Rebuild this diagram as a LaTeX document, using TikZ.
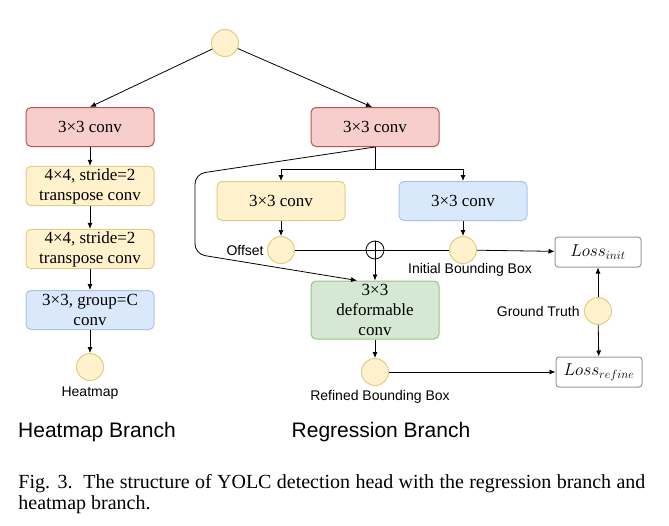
\documentclass[tikz,border=0pt]{standalone}
\usepackage{fontspec}
\setmainfont{Liberation Serif}
\newfontfamily\labelfont{Liberation Sans}
\usetikzlibrary{arrows.meta}
\usetikzlibrary{positioning}

\definecolor{redfill}{HTML}{F8CECC}
\definecolor{reddraw}{HTML}{B85450}
\definecolor{yellowfill}{HTML}{FFF2CC}
\definecolor{yellowdraw}{HTML}{D6B656}
\definecolor{bluefill}{HTML}{DAE8FC}
\definecolor{bluedraw}{HTML}{A9C4EB}
\definecolor{greenfill}{HTML}{D5E8D4}
\definecolor{greendraw}{HTML}{82B366}
\definecolor{lossdraw}{HTML}{999999}

\begin{document}
\begin{tikzpicture}[x=1pt,y=-1pt,line width=0.8pt,
  layer/.style={rounded corners=5pt,line width=1pt,minimum width=128pt,minimum height=39pt,
    align=center,inner sep=2pt,font=\fontsize{17}{20}\selectfont},
  redbox/.style={layer,fill=redfill,draw=reddraw},
  yellowbox/.style={layer,fill=yellowfill,draw=yellowdraw!70},
  bluebox/.style={layer,fill=bluefill,draw=bluedraw},
  greenbox/.style={layer,fill=greenfill,draw=greendraw!80,minimum height=58pt},
  lossbox/.style={rounded corners=3pt,line width=1pt,draw=lossdraw,fill=white,
    minimum width=86pt,minimum height=30pt,font=\fontsize{17.5}{20}\selectfont},
  feat/.style={circle,fill=yellowfill,draw=yellowdraw!70,line width=1pt,minimum size=27pt,inner sep=0pt},
  plus/.style={circle,draw,fill=white,minimum size=18pt,inner sep=0pt},
  lbl/.style={font=\labelfont\fontsize{14}{16}\selectfont,inner sep=1pt},
  branch/.style={font=\labelfont\fontsize{21}{24}\selectfont},
  arr/.style={-{Latex[length=6pt,width=5pt]}}]
\useasboundingbox (0,0) rectangle (669,525);

\node [feat] (input) at (225,43) {};

% heatmap branch
\node [redbox] (hconv) at (90,127) {3×3 conv};
\node [yellowbox] (tconvA) at (90,186) {4×4, stride=2\\transpose conv};
\node [yellowbox] (tconvB) at (90,249) {4×4, stride=2\\transpose conv};
\node [bluebox] (gconv) at (90,310) {3×3, group=C\\conv};
\node [feat] (heat) at (90,367) {};
\node [lbl,below=4pt of heat] (heatlbl) {Heatmap};

% regression branch
\node [redbox] (rconv) at (375,127) {3×3 conv};
\node [yellowbox] (oconv) at (281,201) {3×3 conv};
\node [bluebox] (bconv) at (463,201) {3×3 conv};
\node [feat] (offset) at (281,250) {};
\node [lbl,left=2pt of offset] (offsetlbl) {Offset};
\node [plus] (add) at (375,250) {};
\node [feat] (init) at (463,250) {};
\node [lbl] (initlbl) at (470,270) {Initial Bounding Box};
\node [greenbox] (dconv) at (375,310) {3×3\\deformable\\conv};
\node [feat] (refined) at (375,372) {};
\node [lbl] (refinedlbl) at (380,397) {Refined Bounding Box};
\node [lossbox] (lossinit) at (598,252) {$Loss_{init}$};
\node [feat] (gt) at (598,311) {};
\node [lbl,left=3pt of gt] (gtlbl) {Ground Truth};
\node [lossbox] (lossrefine) at (599,372) {$Loss_{refine}$};

\node [branch] (hbranch) at (97,432) {Heatmap Branch};
\node [branch] (rbranch) at (381,432) {Regression Branch};

\node [anchor=north west,text width=627pt,align=justify,inner sep=0pt,
  font=\fontsize{20}{21}\selectfont] (caption) at (18,474)
  {Fig. 3.\ \ The structure of YOLC detection head with the regression branch and heatmap branch.};

\draw [arr] (input) -- (hconv.north);
\draw [arr] (input) -- ([xshift=-3pt]rconv.north);
\draw [arr] (hconv) -- (tconvA);
\draw [arr] (tconvA) -- (tconvB);
\draw [arr] (tconvB) -- (gconv);
\draw [arr] (gconv) -- (heat);

\draw (rconv.south) -- ++(0,22) coordinate (split);
\draw [arr] (split) -| (oconv.north);
\draw [arr] (split) -| (bconv.north);
\draw [arr,rounded corners=10pt] (rconv.south) -- (195,174) -- (195,254) -- ([xshift=-18pt]dconv.north);
\draw [arr] (oconv) -- (offset);
\draw [arr] (bconv) -- (init);
\draw (offset) -- (add);
\draw (add) -- (init);
\draw (add.north) -- (add.south) (add.west) -- (add.east);
\draw [arr] (add) -- (dconv.north);
\draw [arr] (init) -- (lossinit);
\draw [arr] (dconv) -- (refined);
\draw [arr] (refined) -- (lossrefine);
\draw [arr] (gt) -- (lossinit);
\draw [arr] (gt) -- (lossrefine);
\end{tikzpicture}
\end{document}
